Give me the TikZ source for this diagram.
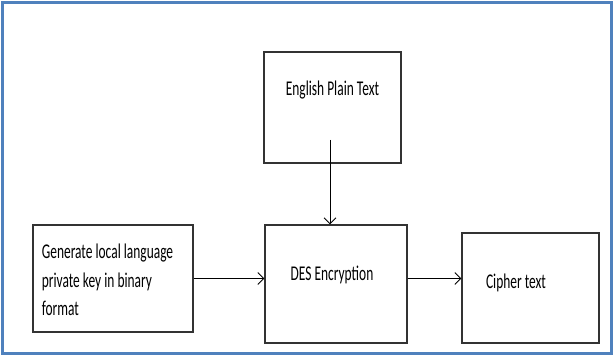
\documentclass[tikz,border=0pt]{standalone}
\usepackage{fontspec}
\setmainfont{Carlito}
\usetikzlibrary{arrows.meta,positioning}
\definecolor{frameblue}{RGB}{79,129,189}
\newcommand{\condensed}[1]{\scalebox{0.64}[1]{#1}}
\tikzset{
	box/.style={
		draw=black!80,
		line width=1.1pt,
		fill=white
	},
	frame/.style={
		draw=frameblue,
		line width=3pt
	},
	every edge/.style={
		draw,
		->,>={Straight Barb[length=6pt,width=12pt]},
		line width=0.9pt
	}
}

\begin{document}
\begin{tikzpicture}[x=1pt,y=-1pt,font=\fontsize{21}{28.5}\selectfont]
	\useasboundingbox (0,0) rectangle (613,355);
	\draw[frame] (2.5,2.5) rectangle (611.5,353);
	\node[box, minimum width=137pt, minimum height=111pt,
		label={[yshift=17.5pt]center:\condensed{English Plain Text}}] (plain) at (332.5,107.5) {};
	\node[box, minimum width=160pt, minimum height=107pt,
		label={[xshift=-5.5pt, yshift=-3pt]center:\condensed{\begin{tabular}{@{}l@{}}
			Generate local language\\
			private key in binary\\
			format
		\end{tabular}}}] (gen) at (113,278.5) {};
	\node[box, minimum width=142pt, minimum height=118pt,
		label={[xshift=-4pt, yshift=9pt]center:\condensed{DES Encryption}}] (des) at (336,284) {};
	\node[box, minimum width=137pt, minimum height=110pt,
		label={[xshift=-14.5pt, yshift=5pt]center:\condensed{Cipher text}}] (cipher) at (530.5,288) {};
	\coordinate (tail) at (330,140);
	\draw (tail) edge (tail |- des.north)
		(gen.east) edge (gen.east -| des.west)
		(des.east |- gen.east) edge (cipher.west |- gen.east);
\end{tikzpicture}
\end{document}
